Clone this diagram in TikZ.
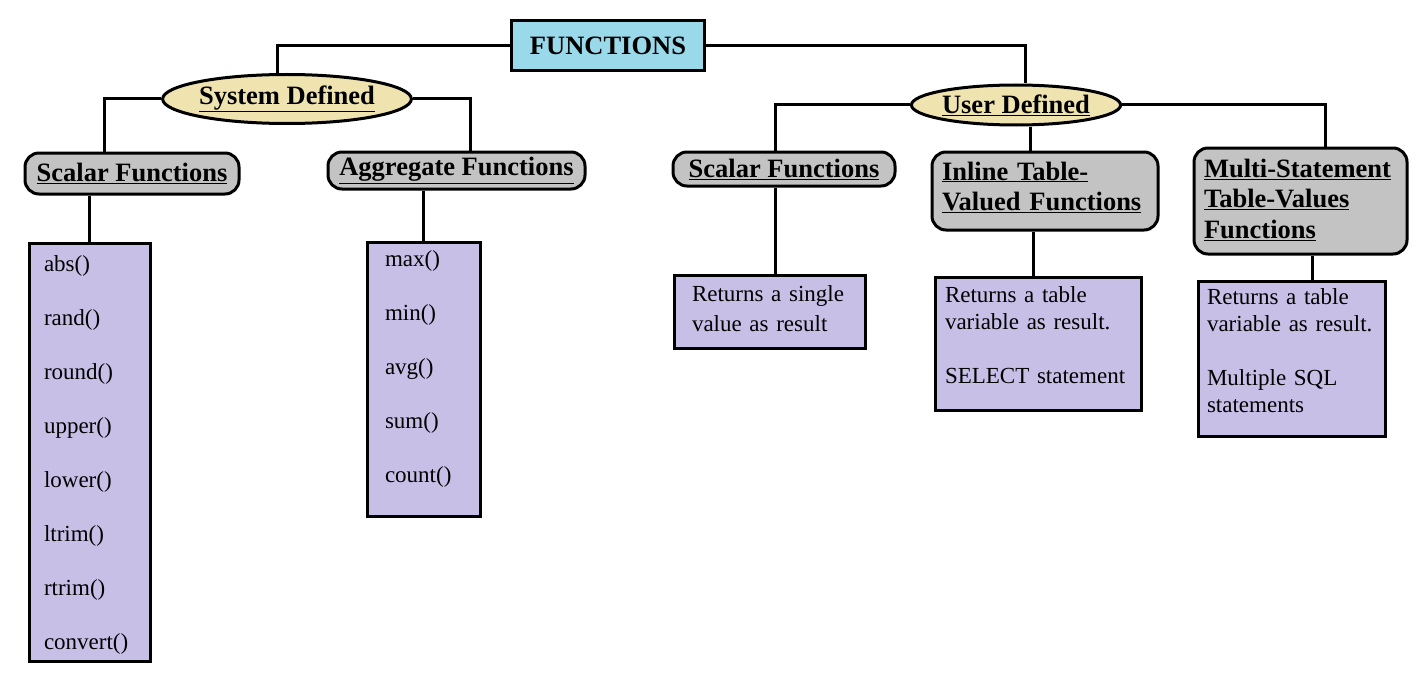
\documentclass[tikz,border=0pt]{standalone}
\usepackage{fontspec}
\setmainfont{Liberation Serif}
\usetikzlibrary{shapes.geometric}

\definecolor{topblue}{RGB}{153,217,234}
\definecolor{grpyellow}{RGB}{239,228,176}
\definecolor{catgray}{RGB}{195,195,195}
\definecolor{listlav}{RGB}{200,191,231}

\begin{document}
\begin{tikzpicture}[x=1pt, y=-1pt, line width=3pt,
    topbox/.style={draw, fill=topblue, inner sep=0pt, font=\fontsize{26.5}{30}\selectfont\bfseries},
    grpell/.style={draw, ellipse, fill=grpyellow, inner sep=0pt, font=\fontsize{26.5}{30}\selectfont\bfseries},
    catbox/.style={draw, fill=catgray, rounded corners=14pt, inner sep=0pt, font=\fontsize{26.5}{30.5}\selectfont\bfseries},
    listbox/.style={draw, fill=listlav, inner ysep=0pt, align=left, font=\fontsize{23}{27}\selectfont}]

    \useasboundingbox (0,0) rectangle (1420,698);

    %%% Root
    \node (funcs) [topbox, minimum width=193pt, minimum height=50pt] at (608,46) {FUNCTIONS};

    %%% System defined side
    \begin{scope}
        % Group ellipse
        \node (sysdef) [grpell, minimum width=240pt, minimum height=49pt] at (287,99) {\underline{System Defined}};

        % Categories
        \node (lscalar) [catbox, minimum width=214pt, minimum height=41pt] at (132,173.5) {\underline{Scalar Functions}};
        \node (aggr) [catbox, minimum width=257pt, minimum height=37pt] at (456.5,170.5) {\underline{Aggregate Functions}};

        % Function lists
        \node (abslist) [listbox, inner xsep=15pt, text width=91pt, text height=28.5pt, text depth=389.5pt,
            font=\fontsize{23}{54}\selectfont] at (89.5,452)
            {abs()\\rand()\\round()\\upper()\\lower()\\ltrim()\\rtrim()\\convert()};
        \node (aggrlist) [listbox, inner xsep=18pt, text width=77pt, text height=24pt, text depth=250pt,
            font=\fontsize{23}{54}\selectfont] at (423.5,379)
            {max()\\min()\\avg()\\sum()\\count()};
    \end{scope}

    %%% User defined side
    \begin{scope}
        % Group ellipse
        \node (userdef) [grpell, minimum width=200pt, minimum height=40pt] at (1016,105) {\underline{User Defined}};

        % Categories
        \node (uscalar) [catbox, minimum width=222pt, minimum height=34pt] at (784,169) {\underline{Scalar Functions}};
        \node (inline) [catbox, align=left, inner xsep=10pt, text width=206pt, text height=28pt, text depth=50pt] at (1045,191)
            {\underline{Inline Table-}\\\underline{Valued Functions}};
        \node (multi) [catbox, align=left, inner xsep=10pt, text width=193pt, text height=29pt, text depth=77pt] at (1300.5,201)
            {\underline{Multi-Statement}\\\underline{Table-Values}\\\underline{Functions}};

        % Descriptions
        \node (single) [listbox, inner xsep=18pt, text width=155pt, text height=26.5pt, text depth=46.5pt] at (769.5,311.5)
            {Returns a single\\[3pt]value as result};
        \node (inlinebox) [listbox, inner xsep=10pt, text width=186pt, text height=25pt, text depth=108pt] at (1038,343.5)
            {Returns a table\\variable as result.\\[27pt]SELECT statement};
        \node (multibox) [listbox, inner xsep=9pt, text width=169pt, text height=23pt, text depth=132pt] at (1291.5,358.5)
            {Returns a table\\variable as result.\\[27pt]Multiple SQL\\statements};
    \end{scope}

    %%% Connectors
    \draw (funcs.west) -| ([xshift=-10pt]sysdef.north);
    \draw (funcs.east) -| ([xshift=9pt]userdef.north);

    \draw (sysdef.west) -| ([xshift=-28pt]lscalar.north);
    \draw (sysdef.east) -| ([xshift=13.5pt]aggr.north);
    \draw (lscalar.south -| abslist.north) -- (abslist.north);
    \draw (aggr.south -| aggrlist.north) -- (aggrlist.north);

    \draw (userdef.west) -| ([xshift=-9pt]uscalar.north);
    \draw ([xshift=14pt]userdef.south) -- ([xshift=14pt]userdef.south |- inline.north);
    \draw (userdef.east) -| ([xshift=24.5pt]multi.north);
    \draw ([xshift=-9pt]uscalar.south) -- ([xshift=-9pt]uscalar.south |- single.north);
    \draw ([xshift=-12pt]inline.south) -- ([xshift=-12pt]inline.south |- inlinebox.north);
    \draw ([xshift=11.5pt]multi.south) -- ([xshift=11.5pt]multi.south |- multibox.north);

\end{tikzpicture}
\end{document}
